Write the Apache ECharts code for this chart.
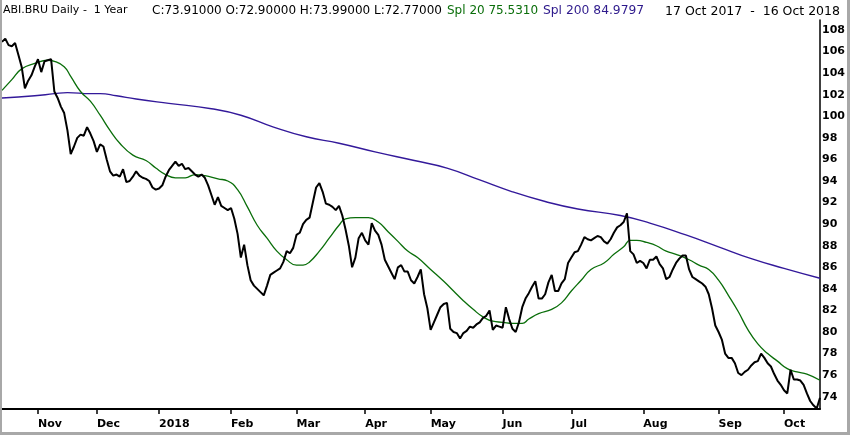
<!DOCTYPE html>
<html><head><meta charset="utf-8">
<script src="https://cdn.jsdelivr.net/npm/echarts@6/dist/echarts.min.js"></script>
<style>
html,body{margin:0;padding:0;background:#fff;}
#wrap{position:relative;width:850px;height:435px;}
#chart{position:absolute;left:0;top:0;width:850px;height:435px;}
#frame{position:absolute;left:0;top:0;width:850px;height:435px;box-sizing:border-box;border-left:2px solid #a8a8a8;border-right:3px solid #a8a8a8;border-bottom:3px solid #a8a8a8;pointer-events:none;}
</style></head>
<body><div id="wrap"><div id="chart"></div><div id="frame"></div></div>
<script>
// Trading-day categories, month by month
const monthKeys = ['2017-10','2017-11','2017-12','2018-01','2018-02','2018-03','2018-04','2018-05','2018-06','2018-07','2018-08','2018-09','2018-10'];
const monthDays = [
  [17,18,19,20,23,24,25,26,27,30,31],
  [1,2,3,6,8,9,10,13,15,16,17,20,22,23,24,27,29,30],
  [1,4,5,6,7,8,11,12,13,14,15,18,19,20,21,22,27,28,29],
  [2,3,4,5,8,9,10,11,12,15,16,17,18,19,22,23,24,25,26,29,30,31],
  [1,2,5,6,7,8,9,12,13,14,15,16,19,20,21,22,23,26,27,28],
  [1,2,5,6,7,8,9,12,13,14,15,16,19,20,21,22,23,26,27,28,29],
  [3,4,5,6,9,10,11,12,13,16,17,18,19,20,23,24,25,26,27,30],
  [2,3,4,7,8,9,10,11,14,15,16,17,18,21,22,23,24,25,28,29,30,31],
  [1,4,5,6,7,8,11,12,13,14,15,18,19,20,21,22,25,26,27,28,29],
  [2,3,4,5,6,9,10,11,12,13,16,17,18,19,20,23,24,25,26,27,30,31],
  [1,2,3,6,7,8,9,10,13,14,15,16,17,20,21,22,23,24,27,28,29,30,31],
  [3,4,5,6,7,10,11,12,13,14,17,18,19,20,21,24,25,26,27,28],
  [1,2,3,4,5,8,9,10,11,12,15,16]
];
const monthLabels = ['Jan','Feb','Mar','Apr','May','Jun','Jul','Aug','Sep','Oct','Nov','Dec'];

// Daily close
const price = [
  106.9,107.2,106.6,106.5,106.8,105.7,104.6,102.6,103.3,103.8,
  104.6,105.3,104.1,105.1,105.2,105.3,102.3,101.7,100.9,100.3,
  98.7,96.5,97.2,98.0,98.3,98.2,99.0,98.4,97.7,96.7,
  97.4,97.2,96.0,94.9,94.5,94.6,94.4,95.1,93.9,94.0,
  94.4,94.9,94.5,94.3,94.2,94.0,93.4,93.2,93.3,93.6,
  94.4,95.0,95.4,95.8,95.4,95.6,95.1,95.2,94.9,94.6,
  94.4,94.6,94.3,93.6,92.7,91.8,92.5,91.7,91.5,91.3,
  91.5,90.5,89.1,86.9,88.1,86.2,84.8,84.3,84.0,83.7,
  83.4,84.3,85.3,85.5,85.7,85.9,86.5,87.5,87.3,87.8,
  89.0,89.2,90.0,90.4,90.6,92.0,93.4,93.8,93.0,91.9,
  91.8,91.6,91.3,91.7,90.8,89.5,88.0,86.0,86.9,88.7,
  89.2,88.5,88.1,90.1,89.4,89.0,88.1,86.7,86.1,85.5,
  84.9,86.0,86.2,85.6,85.6,84.8,84.5,85.1,85.8,83.5,
  82.2,80.2,80.9,81.6,82.3,82.6,82.7,80.3,80.0,79.9,
  79.4,79.9,80.1,80.5,80.4,80.7,80.9,81.3,81.5,82.0,
  80.2,80.6,80.5,80.4,82.3,81.2,80.3,80.0,80.9,82.3,
  83.1,83.6,84.2,84.7,83.1,83.1,83.5,84.6,85.3,83.8,
  83.8,84.5,84.9,86.4,86.9,87.4,87.5,88.1,88.8,88.6,
  88.5,88.7,88.9,88.8,88.4,88.2,88.6,89.2,89.7,89.9,
  90.2,91.0,87.5,87.2,86.4,86.6,86.4,85.9,86.7,86.7,
  87.0,86.3,85.9,84.9,85.1,85.8,86.4,86.8,87.1,87.1,
  85.8,85.1,84.9,84.7,84.5,84.2,83.5,82.2,80.6,80.0,
  79.3,78.0,77.6,77.6,77.1,76.2,76.0,76.3,76.5,76.9,
  77.2,77.3,78.0,77.6,77.1,76.8,76.1,75.5,75.1,74.6,
  74.3,76.5,75.6,75.6,75.5,75.1,74.3,73.6,73.2,72.9,
  73.91
];

// 20-day average, read at these trading-day positions
const sma20Idx = [0,3,6,10,14,16,19,21,24,27,30,33,36,40,44,47,50,53,56,59,62,66,69,72,75,78,81,84,87,90,92,94,97,100,103,105,108,112,115,118,121,124,127,131,135,138,141,144,147,150,153,156,159,161,164,168,171,174,177,180,184,187,190,192,194,197,200,203,206,210,213,216,219,222,225,228,231,234,237,240,243,246,250];
const sma20Val = [102.4,103.4,104.4,104.9,105.2,105.1,104.6,103.7,102.3,101.4,100.1,98.7,97.5,96.4,95.9,95.2,94.6,94.3,94.3,94.6,94.5,94.2,94.0,93.2,91.6,89.9,88.7,87.5,86.7,86.2,86.2,86.5,87.5,88.7,89.9,90.5,90.6,90.6,90.2,89.3,88.4,87.5,86.9,85.8,84.7,83.8,82.9,82.1,81.4,81.0,80.9,80.8,80.8,81.2,81.7,82.1,82.7,83.8,84.8,85.8,86.4,87.2,87.9,88.5,88.5,88.3,88.0,87.5,87.2,86.7,86.2,85.8,84.8,83.4,81.9,80.2,78.9,78.0,77.3,76.6,76.3,76.1,75.531];

// 200-day average, read at these trading-day positions
const sma200Idx = [0,10,16,20,27,30,35,41,51,64,73,83,93,103,114,126,136,146,156,166,176,189,198,209,219,229,239,250];
const sma200Val = [101.7,101.9,102.1,102.2,102.1,102.1,101.9,101.6,101.2,100.7,100.1,99.0,98.1,97.5,96.7,95.9,95.2,94.1,93.0,92.1,91.4,90.8,90.1,89.0,87.9,86.8,85.9,84.9797];

const yTicks = [74,76,78,80,82,84,86,88,90,92,94,96,98,100,102,104,106,108];

const dates = monthKeys.flatMap((m, k) => monthDays[k].map(d => m + '-' + String(d).padStart(2, '0')));
const isStart = dates.map((d, i) => i > 0 && d.slice(0, 7) !== dates[i - 1].slice(0, 7));
const pairs = (idx, val) => idx.map((x, k) => [x, val[k]]);

const FONT = 'DejaVu Sans';
const chart = echarts.init(document.getElementById('chart'), null, {renderer: 'canvas'});
chart.setOption({
  animation: false,
  backgroundColor: '#fff',
  grid: {left: 2, right: 30, top: 20, bottom: 26},
  xAxis: {
    type: 'category',
    data: dates,
    boundaryGap: false,
    axisLine: {show: true, lineStyle: {color: '#000', width: 2}},
    axisTick: {show: true, interval: (i) => isStart[i], length: 5, lineStyle: {color: '#000', width: 1.5}},
    axisLabel: {
      interval: (i) => isStart[i],
      formatter: (v) => {
        const mo = parseInt(v.slice(5, 7), 10);
        return mo === 1 ? v.slice(0, 4) : monthLabels[mo - 1];
      },
      align: 'left', margin: 10, fontSize: 11, fontWeight: 'bold', fontFamily: FONT, color: '#000'
    },
    splitLine: {show: false}
  },
  yAxis: {
    type: 'value',
    position: 'right',
    min: 72.86, max: 108.93,
    axisLine: {show: true, lineStyle: {color: '#000', width: 1.5}},
    axisTick: {show: false},
    splitLine: {show: false},
    axisLabel: {customValues: yTicks, margin: 2, fontSize: 11, fontWeight: 'bold', fontFamily: FONT, color: '#000'}
  },
  graphic: [
    {type: 'text', left: 3, top: 5, style: {text: 'ABI.BRU Daily -  1 Year', fontSize: 11, fontFamily: FONT, fill: '#000'}},
    {type: 'text', left: 152, top: 5, style: {text: 'C:73.91000 O:72.90000 H:73.99000 L:72.77000', fontSize: 12, fontFamily: FONT, fill: '#000'}},
    {type: 'text', left: 447, top: 5, style: {text: 'Spl 20 75.5310', fontSize: 12, fontFamily: FONT, fill: '#0a6e0a'}},
    {type: 'text', left: 543, top: 5, style: {text: 'Spl 200 84.9797', fontSize: 12.3, fontFamily: FONT, fill: '#2e1a8c'}},
    {type: 'text', left: 665, top: 5, style: {text: '17 Oct 2017  -  16 Oct 2018', fontSize: 12.5, fontFamily: FONT, fill: '#000'}}
  ],
  series: [
    {type: 'line', name: 'Spl 200', data: pairs(sma200Idx, sma200Val), smooth: true, showSymbol: false,
     lineStyle: {color: '#33199a', width: 1.4}, z: 2},
    {type: 'line', name: 'Spl 20', data: pairs(sma20Idx, sma20Val), smooth: true, showSymbol: false,
     lineStyle: {color: '#0a6e0a', width: 1.3}, z: 2},
    {type: 'line', name: 'ABI.BRU', data: price, showSymbol: false,
     lineStyle: {color: '#000', width: 2}, z: 3}
  ]
});
</script>
</body></html>
